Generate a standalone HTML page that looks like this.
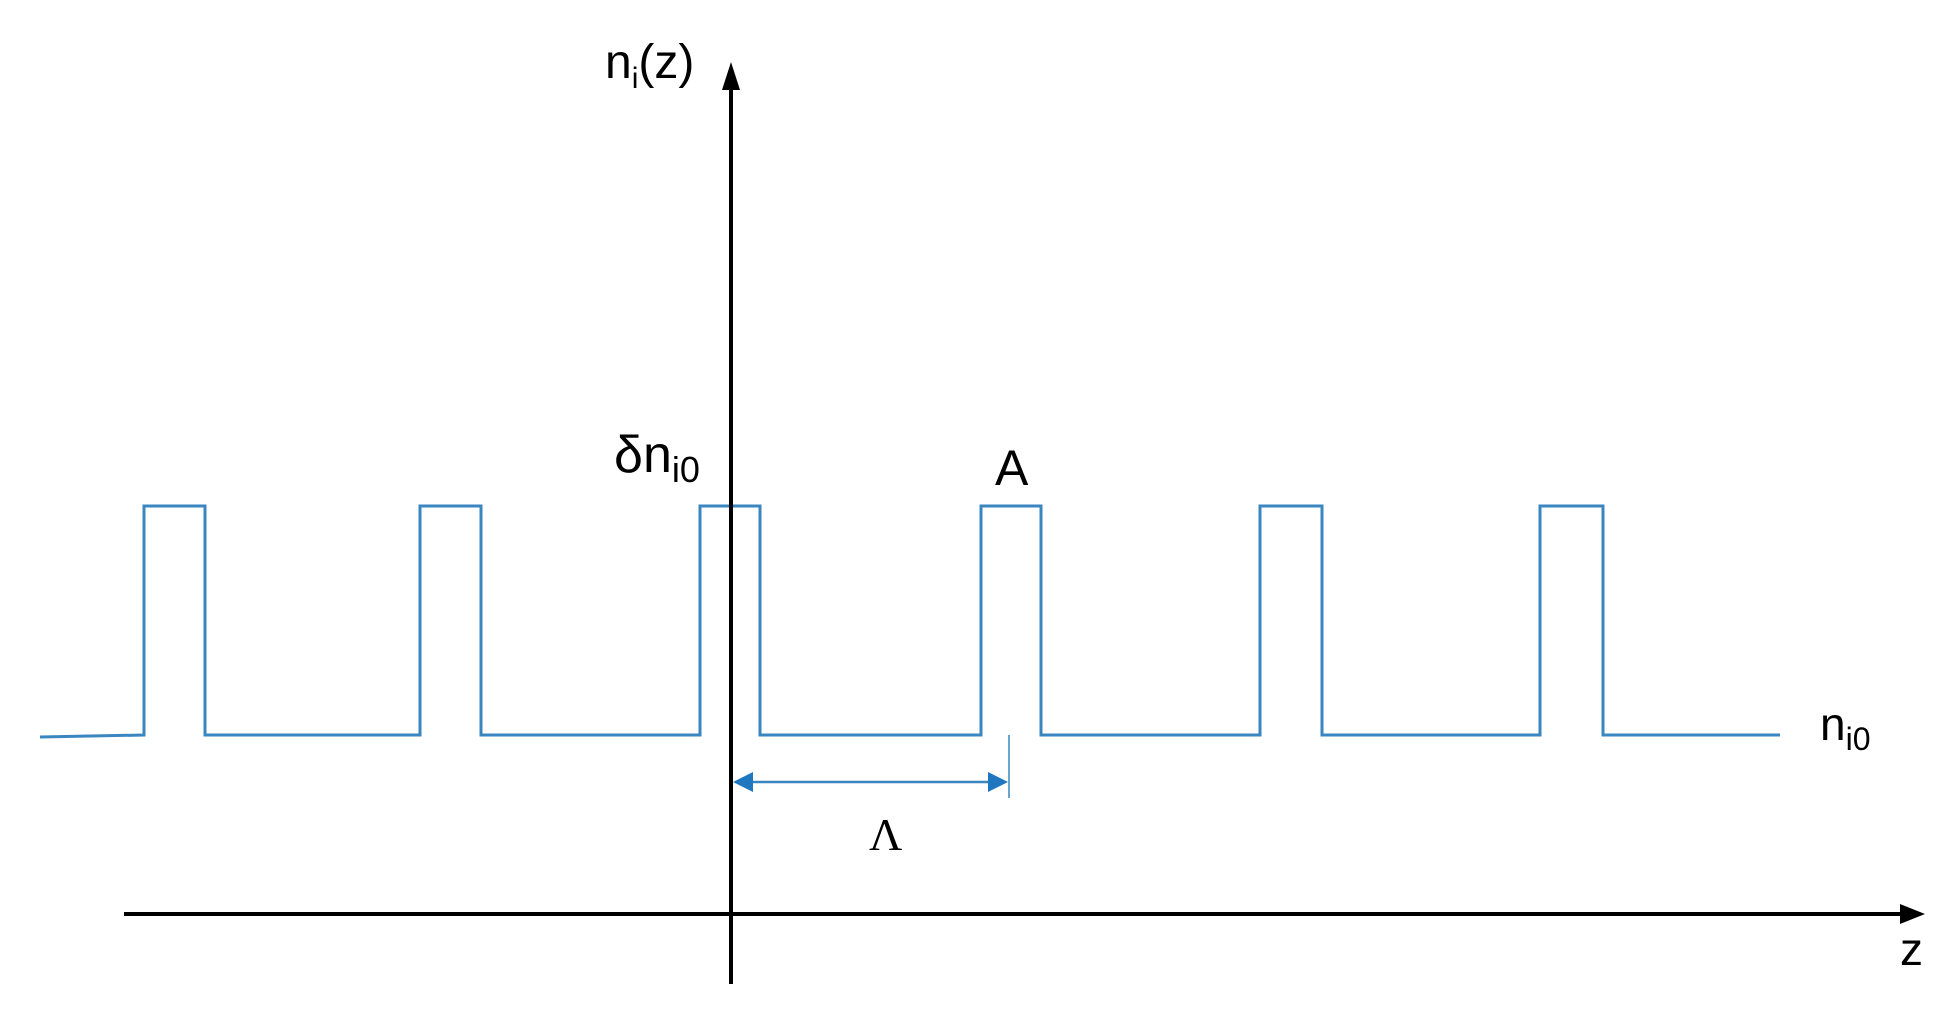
<!DOCTYPE html>
<html><head><style>html,body{margin:0;padding:0;background:#fff;}svg{display:block}</style></head>
<body>
<svg width="1942" height="1015" viewBox="0 0 1942 1015" xmlns="http://www.w3.org/2000/svg" font-family="Liberation Sans, sans-serif">
<polyline fill="none" stroke="#3a86c0" stroke-width="3" points="40,737 144,735 144,506 205,506 205,735 420,735 420,506 481,506 481,735 700,735 700,506 760,506 760,735 981,735 981,506 1041,506 1041,735 1260,735 1260,506 1322,506 1322,735 1540,735 1540,506 1603,506 1603,735 1780,735"/>
<line x1="731" y1="984" x2="731" y2="80" stroke="#000" stroke-width="4"/>
<polygon points="731,62 722,90 740,90" fill="#000"/>
<line x1="124" y1="914" x2="1905" y2="914" stroke="#000" stroke-width="4"/>
<polygon points="1925,914 1900,904 1900,924" fill="#000"/>
<line x1="1009" y1="735" x2="1009" y2="798" stroke="#3a86c0" stroke-width="1.5"/>
<line x1="746" y1="782" x2="996" y2="782" stroke="#3a86c0" stroke-width="2.5"/>
<polygon points="733,782 753,772 753,792" fill="#1f77c0"/>
<polygon points="1008,782 988,772 988,792" fill="#1f77c0"/>
<text x="605" y="78" font-size="48">n<tspan font-size="30" dy="10">i</tspan><tspan dy="-10">(z)</tspan></text>
<text x="614" y="472" font-size="52">δn<tspan font-size="36" dy="10">i0</tspan></text>
<text x="995" y="485" font-size="50">A</text>
<text x="1820" y="740" font-size="46">n<tspan font-size="32" dy="10">i0</tspan></text>
<text x="1900" y="965" font-size="46">z</text>
<text x="869" y="850" font-size="46" font-family="Liberation Serif, serif">Λ</text>
</svg>
</body></html>
